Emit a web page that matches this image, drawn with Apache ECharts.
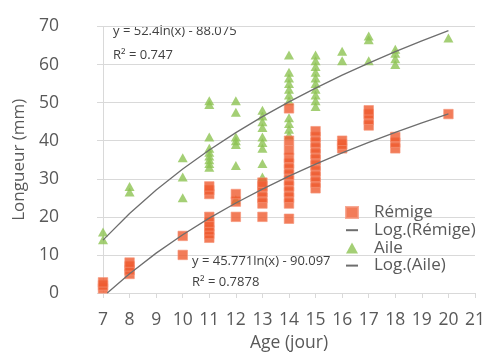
<!DOCTYPE html>
<html>
<head>
<meta charset="utf-8">
<script src="https://cdn.jsdelivr.net/npm/echarts@6/dist/echarts.min.js"></script>
<style>
  html, body { margin: 0; padding: 0; background: #fff; }
  #chart { width: 488px; height: 354px; }
</style>
</head>
<body>
<div id="chart"></div>
<script>
// Rémige (squares): ages and the lengths measured at each age
const remigeAges = [7, 8, 10, 11, 12, 13, 14, 15, 16, 17, 18, 20];
const remigeValues = [
  [1.2, 2, 2.8],
  [5, 6, 7, 8],
  [10, 15],
  [14.5, 15.5, 16.5, 17.5, 18.5, 20, 26, 27, 28],
  [20, 24, 26],
  [20, 23.5, 25, 26.5, 28, 29],
  [19.5, 23.5, 25, 26.5, 28, 29.5, 31, 32.5, 34, 35.5, 37.5, 40, 48.5],
  [27.5, 29, 30.5, 32, 33.5, 35, 36.5, 38, 39.5, 41, 42.5],
  [38, 39, 40],
  [44, 45.5, 47, 48],
  [38, 39.5, 41],
  [47]
];

// Aile (triangles)
const aileAges = [7, 8, 10, 11, 12, 13, 14, 15, 16, 17, 18, 20];
const aileValues = [
  [14, 16],
  [26.5, 28],
  [25, 30.5, 35.5],
  [33, 34, 35, 36, 37, 38, 41, 49.5, 50.5],
  [24.5, 33.5, 39, 40, 41, 47.5, 50.5],
  [30.5, 34, 38, 39.5, 41, 43.5, 45, 46.5, 48],
  [41.5, 43, 44.5, 46, 50.5, 52, 53.5, 55, 56.5, 58, 62.5],
  [49, 50.5, 52, 53.5, 55, 56.5, 58, 59.5, 61, 62.5],
  [61, 63.5],
  [61, 66.5, 67.5],
  [60, 61.5, 63, 64],
  [67]
];

// logarithmic trend lines
const trendRemigeAges = [7.16, 8, 9, 10, 11, 12, 13, 14, 15, 16, 17, 18, 19, 20];
const trendRemige = [0, 5.08, 10.47, 15.3, 19.66, 23.64, 27.3, 30.7, 33.85, 36.81, 39.58, 42.2, 44.67, 47.02];
const trendAileAges = [7, 8, 9, 10, 11, 12, 13, 14, 15, 16, 17, 18, 19, 20];
const trendAile = [13.89, 20.89, 27.06, 32.58, 37.58, 42.13, 46.33, 50.21, 53.83, 57.21, 60.39, 63.38, 66.21, 68.9];

const eqAile = ['y = 52.4ln(x) - 88.075', 'R² = 0.747'];
const eqRemige = ['y = 45.771ln(x) - 90.097', 'R² = 0.7878'];

function pairs(ages, values) {
  let out = [];
  ages.forEach((a, i) => values[i].forEach(v => out.push([a, v])));
  return out;
}

const font = '"Open Sans", "Noto Sans", sans-serif';
const textColor = '#595959';
const gridColor = '#D9D9D9';
const trendColor = '#6E6E6E';
const hidden = { color: 'rgba(0,0,0,0)', borderWidth: 0 };

let chart = echarts.init(document.getElementById('chart'));
let option = {
  animation: false,
  grid: { left: 103, right: 13, top: 26.5, bottom: 61, outerBoundsMode: 'none', containLabel: false },
  legend: {
    orient: 'vertical',
    left: 345,
    top: 204,
    padding: 0,
    itemGap: 0.7,
    itemWidth: 12,
    itemHeight: 11,
    selectedMode: false,
    textStyle: { fontFamily: font, fontSize: 17, color: textColor, lineHeight: 16, padding: [0, 0, 0, 11] },
    data: [
      { name: 'Rémige' },
      { name: 'Log.(Rémige)', itemStyle: hidden },
      { name: 'Aile' },
      { name: 'Log.(Aile)', itemStyle: hidden }
    ]
  },
  xAxis: {
    type: 'value',
    min: 7, max: 21, interval: 1,
    name: 'Age (jour)',
    nameLocation: 'middle',
    nameGap: 40,
    nameTextStyle: { fontFamily: font, fontSize: 17.5, color: textColor },
    axisLine: { show: true, lineStyle: { color: gridColor } },
    axisTick: { show: true, length: 5, lineStyle: { color: gridColor } },
    axisLabel: { fontFamily: font, fontSize: 17.5, color: textColor, margin: 18 },
    splitLine: { show: false }
  },
  yAxis: {
    type: 'value',
    min: 0, max: 70, interval: 10,
    name: 'Longueur (mm)',
    nameLocation: 'middle',
    nameGap: 72,
    nameTextStyle: { fontFamily: font, fontSize: 17, color: textColor },
    axisLine: { show: true, lineStyle: { color: gridColor } },
    axisTick: { show: true, length: 6, lineStyle: { color: gridColor } },
    axisLabel: { fontFamily: font, fontSize: 17.5, color: textColor, margin: 44 },
    splitLine: { lineStyle: { color: gridColor, width: 1 } }
  },
  series: [
    {
      name: 'Rémige',
      type: 'scatter',
      symbol: 'rect',
      symbolSize: 9.5,
      itemStyle: { color: '#EF5B30', borderColor: '#F5957A', borderWidth: 0.8 },
      data: pairs(remigeAges, remigeValues),
      z: 3
    },
    {
      name: 'Log.(Rémige)',
      type: 'line',
      symbol: 'none',
      itemStyle: { color: trendColor },
      lineStyle: { color: trendColor, width: 1.3 },
      data: trendRemigeAges.map((a, i) => [a, trendRemige[i]]),
      z: 5
    },
    {
      name: 'Aile',
      type: 'scatter',
      symbol: 'triangle',
      symbolSize: [10, 9],
      itemStyle: { color: '#8DC352' },
      data: pairs(aileAges, aileValues),
      z: 2
    },
    {
      name: 'Log.(Aile)',
      type: 'line',
      symbol: 'none',
      itemStyle: { color: trendColor },
      lineStyle: { color: trendColor, width: 1.3 },
      data: trendAileAges.map((a, i) => [a, trendAile[i]]),
      z: 5
    }
  ],
  graphic: [
    { type: 'text', left: 113, top: 25, style: { text: eqAile[0], font: '13px ' + font, fill: '#404040' } },
    { type: 'text', left: 113, top: 49, style: { text: eqAile[1], font: '13px ' + font, fill: '#404040' } },
    { type: 'text', left: 192, top: 255, style: { text: eqRemige[0], font: '13px ' + font, fill: '#404040' } },
    { type: 'text', left: 192, top: 276, style: { text: eqRemige[1], font: '13px ' + font, fill: '#404040' } }
  ]
};
chart.setOption(option);
</script>
</body>
</html>
